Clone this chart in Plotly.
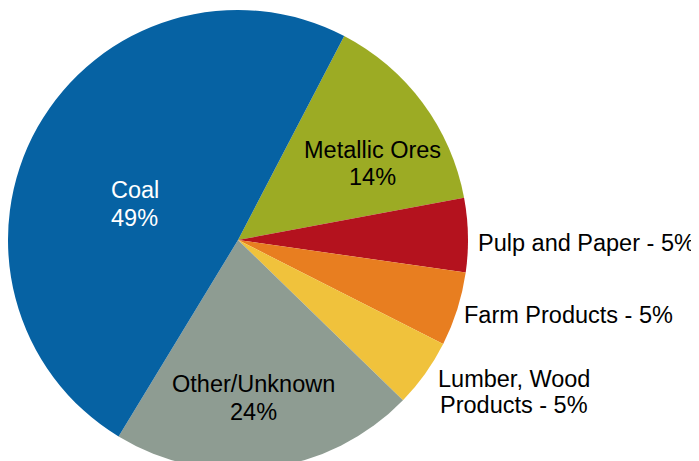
import plotly.graph_objects as go

# Data (slices in clockwise order, starting at Metallic Ores)
categories = ["Metallic Ores", "Pulp and Paper", "Farm Products",
              "Lumber, Wood Products", "Other/Unknown", "Coal"]
slice_values = [14.4, 5.2, 5.2, 4.8, 21.4, 48.9]
label_pcts = [14, 5, 5, 5, 24, 49]

colors = ["#9CAB24", "#B4121E", "#E87E20", "#F0C23C", "#8E9C92", "#0662A3"]

W, H = 699, 462
TOP = 2
OFF = 8  # page body margin compensation

fig = go.Figure(go.Pie(
    labels=categories,
    values=slice_values,
    sort=False,
    direction="clockwise",
    rotation=27.5,
    marker=dict(colors=colors, line=dict(width=0)),
    textinfo="none",
    hoverinfo="label+percent",
    domain=dict(x=[0, 460 / W], y=[0, 1]),
    showlegend=False,
))

FONT = "Arial, Liberation Sans, sans-serif"
FS = 23.5

# label layout (viewport pixels): (lines, x_px, y_px_of_each_line, color)
label_lines = [
    ([categories[5], f"{label_pcts[5]}%"], 134.5, [189.5, 218], "white"),
    ([categories[0], f"{label_pcts[0]}%"], 372, [149.5, 177], "black"),
    ([categories[4], f"{label_pcts[4]}%"], 253, [384, 412], "black"),
    ([f"{categories[1]} - {label_pcts[1]}%"], 586.5, [242.5], "black"),
    ([f"{categories[2]} - {label_pcts[2]}%"], 568.5, [314.5], "black"),
    (["Lumber, Wood", f"Products - {label_pcts[3]}%"], 514, [378.5, 405], "black"),
]

annotations = []
for lines, xp, ys, col in label_lines:
    for txt, yp in zip(lines, ys):
        annotations.append(dict(
            text=txt, x=(xp - OFF) / W, y=(H - (yp - OFF)) / (H - TOP),
            xref="paper", yref="paper", xanchor="center", yanchor="middle",
            showarrow=False, font=dict(family=FONT, size=FS, color=col),
        ))

fig.update_layout(
    width=W, height=H,
    margin=dict(l=0, r=0, t=TOP, b=0),
    paper_bgcolor="white",
    plot_bgcolor="white",
    annotations=annotations,
    font=dict(family=FONT),
)

fig.write_html(
    "out.html",
    post_script="document.documentElement.style.overflow='hidden';"
                "document.body.style.overflow='hidden';",
)
